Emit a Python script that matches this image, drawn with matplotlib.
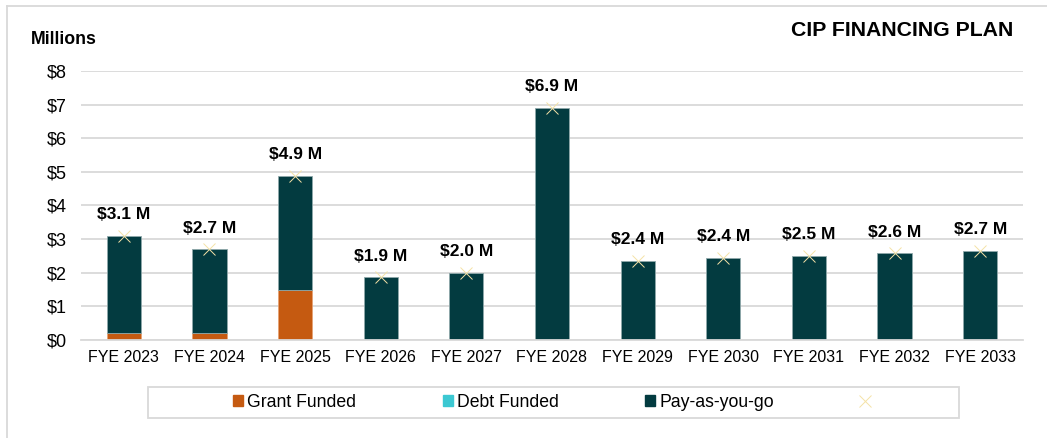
import numpy as np
import matplotlib.pyplot as plt
from matplotlib.patches import Rectangle, Patch
from matplotlib.lines import Line2D

plt.rcParams['font.family'] = ['Liberation Sans', 'DejaVu Sans']

# данные (млн $)
years = ['FYE 2023', 'FYE 2024', 'FYE 2025', 'FYE 2026', 'FYE 2027', 'FYE 2028',
         'FYE 2029', 'FYE 2030', 'FYE 2031', 'FYE 2032', 'FYE 2033']
grant = [0.2, 0.2, 1.5, 0, 0, 0, 0, 0, 0, 0, 0]
debt = [0, 0, 0, 0, 0, 0, 0, 0, 0, 0, 0]
paygo = [2.9, 2.5, 3.38, 1.86, 2.0, 6.9, 2.36, 2.44, 2.5, 2.58, 2.66]

c_grant = '#C55A11'
c_debt = '#3CC8D2'
c_paygo = '#033B40'
c_mark = '#F5E2A6'
c_grid = '#D9D9D9'

W, H = 1047, 438
fig = plt.figure(figsize=(W / 100, H / 100), dpi=100)
ax = fig.add_axes([81 / W, 1 - 340 / H, (1023 - 81) / W, (340 - 71) / H])

x = np.arange(len(years))
grant = np.array(grant)
debt = np.array(debt)
paygo = np.array(paygo)
total = grant + debt + paygo

bw = 0.4
ax.bar(x, grant, bw, color=c_grant, edgecolor='#E8A070', linewidth=0.5, zorder=2)
ax.bar(x, debt, bw, bottom=grant, color=c_debt, linewidth=0, zorder=2)
ax.bar(x, paygo, bw, bottom=grant + debt, color=c_paygo, edgecolor='#8FA8AA',
       linewidth=0.6, zorder=2)
ax.plot(x, total, linestyle='none', marker='x', color=c_mark, markersize=8,
        markeredgewidth=0.7, zorder=3)

for xi, t in zip(x, total):
    ax.annotate('$%.1f M' % t, (xi, t), xytext=(0, 12), textcoords='offset points',
                ha='center', va='baseline', fontsize=12.5, fontweight='bold')

ax.set_xlim(-0.5, len(years) - 0.5)
ax.set_ylim(0, 8)
ax.set_yticks(range(0, 9))
ax.set_yticklabels(['$%d' % v for v in range(0, 9)])
ax.set_xticks(x)
ax.set_xticklabels(years)
ax.tick_params(axis='y', length=0, pad=10, labelsize=13)
ax.tick_params(axis='x', length=0, pad=7, labelsize=11.5)
ax.grid(axis='y', color=c_grid, linewidth=1.3, zorder=0)
ax.set_axisbelow(True)
for s in ['top', 'right', 'left']:
    ax.spines[s].set_visible(False)
ax.spines['bottom'].set_color(c_grid)
ax.spines['bottom'].set_linewidth(1.3)

fig.text(1013 / W, 1 - 31 / H, 'CIP FINANCING PLAN', ha='right', va='center',
         fontsize=15.3, fontweight='bold')
fig.text(31 / W, 1 - 40 / H, 'Millions', ha='left', va='center',
         fontsize=12.8, fontweight='bold')

# рамка графика и легенды
fig.add_artist(Line2D([7 / W, 7 / W], [0, 1 - 6 / H], color=c_grid, linewidth=1.3))
fig.add_artist(Line2D([7 / W, 1], [1 - 6 / H, 1 - 6 / H], color=c_grid, linewidth=1.3))
fig.add_artist(Rectangle((148 / W, 1 - 418 / H), (959 - 148) / W, 31 / H,
                         transform=fig.transFigure, fill=False,
                         edgecolor=c_grid, linewidth=1.3))

handles = [Patch(color=c_grant), Patch(color=c_debt), Patch(color=c_paygo),
           Line2D([], [], linestyle='none', marker='x', color=c_mark,
                  markersize=8, markeredgewidth=0.7)]
labels = ['Grant Funded', 'Debt Funded', 'Pay-as-you-go', '']
fig.legend(handles, labels, loc='center', bbox_to_anchor=(554 / W, 1 - 402.5 / H),
           ncol=4, frameon=False, fontsize=12.7, handlelength=0.55, handleheight=0.55,
           handletextpad=0.25, columnspacing=4.9)

fig.savefig('out.png', dpi=100)
